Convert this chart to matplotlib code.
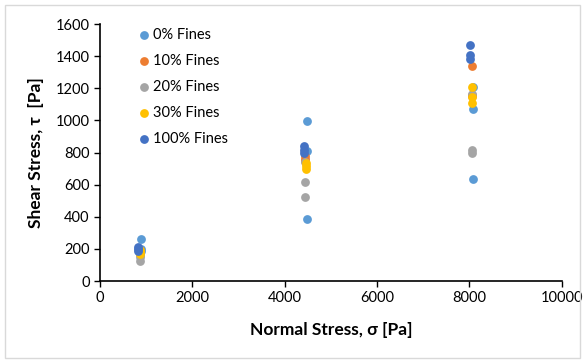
import matplotlib
matplotlib.use("Agg")
import matplotlib.pyplot as plt
from matplotlib.patches import Rectangle

plt.rcParams['font.family'] = ['Lato', 'DejaVu Sans']

series = ["0% Fines", "10% Fines", "20% Fines", "30% Fines", "100% Fines"]
colors = ["#5B9BD5", "#ED7D31", "#A5A5A5", "#FFC000", "#4472C4"]

x_0 = [880, 880, 880, 4480, 4480, 4480, 8080, 8080, 8080]
y_0 = [259, 200, 185, 998, 811, 384, 1206, 1073, 633]
x_10 = [860, 860, 860, 4450, 4450, 4450, 8060, 8060, 8060]
y_10 = [180, 170, 190, 760, 780, 745, 1338, 1160, 1150]
x_20 = [860, 860, 860, 4450, 4450, 4450, 8050, 8050, 8050]
y_20 = [127, 151, 165, 616, 525, 740, 1162, 815, 799]
x_30 = [870, 870, 870, 4460, 4460, 4460, 8060, 8060, 8060]
y_30 = [193, 180, 170, 733, 700, 715, 1206, 1148, 1106]
x_100 = [830, 830, 830, 4420, 4420, 4420, 8025, 8025, 8025]
y_100 = [210, 189, 200, 843, 816, 795, 1467, 1407, 1380]

xs = [x_0, x_10, x_20, x_30, x_100]
ys = [y_0, y_10, y_20, y_30, y_100]

x_ticks = [0, 2000, 4000, 6000, 8000, 10000]
y_ticks = [0, 200, 400, 600, 800, 1000, 1200, 1400, 1600]

fig = plt.figure(figsize=(5.84, 3.6), dpi=100)
fig.patches.append(Rectangle((0.009, 0.006), 0.985, 0.981, transform=fig.transFigure,
                             fill=False, edgecolor="#D9D9D9", linewidth=1.0))
ax = fig.add_axes([0.1712, 0.2194, 0.7904, 0.7139])

for lab, c, x, y in zip(series, colors, xs, ys):
    ax.scatter(x, y, s=40, color=c, label=lab, linewidths=0, zorder=3)

ax.set_xlim(0, 10000)
ax.set_ylim(0, 1600)
ax.set_xticks(x_ticks)
ax.set_yticks(y_ticks)
ax.tick_params(axis='both', labelsize=10.5, direction='out', length=4, width=1, color='black')
for s in ['top', 'right']:
    ax.spines[s].set_visible(False)
for s in ['left', 'bottom']:
    ax.spines[s].set_linewidth(1.2)
    ax.spines[s].set_color('black')

ax.set_xlabel("Normal Stress, σ [Pa]", fontsize=12.5, fontweight='bold', labelpad=12)
ax.set_ylabel("Shear Stress, τ  [Pa]", fontsize=12.5, fontweight='bold', labelpad=8)

leg = ax.legend(loc='upper left', bbox_to_anchor=(0.066, 1.008), frameon=False, fontsize=10.5,
                handlelength=1.0, handletextpad=0.15, labelspacing=0.82, markerscale=1.0,
                borderaxespad=0)

fig.savefig("out.png", dpi=100)
